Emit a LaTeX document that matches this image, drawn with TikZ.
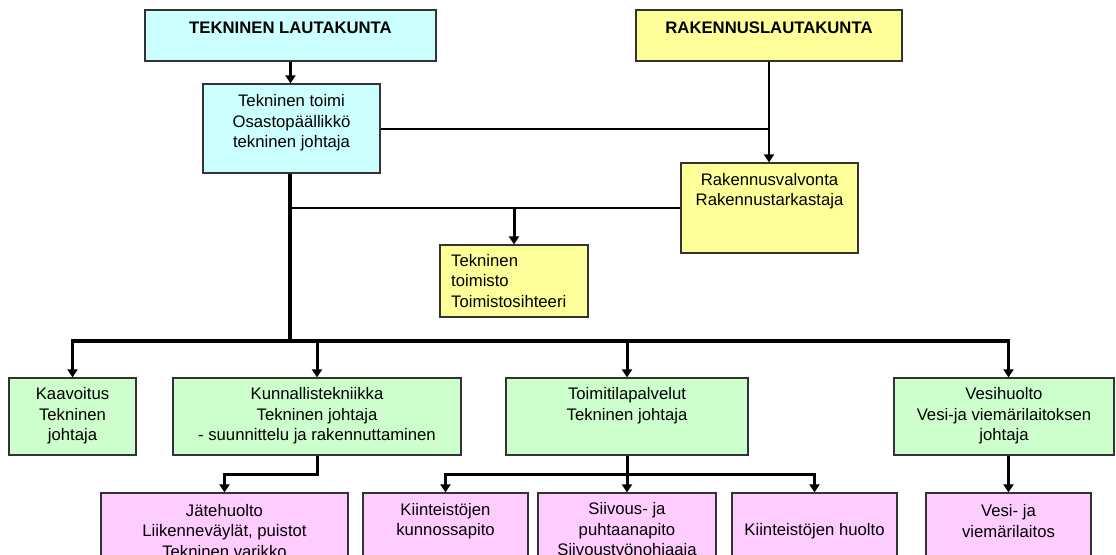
\documentclass[tikz,border=0pt]{standalone}
\usepackage{fontspec}
\setmainfont{Liberation Sans}
\usetikzlibrary{arrows.meta}
\definecolor{cyanbox}{HTML}{CCFFFF}
\definecolor{yellowbox}{HTML}{FFFF99}
\definecolor{greenbox}{HTML}{CCFFCC}
\definecolor{pinkbox}{HTML}{FFCCFF}
\newcommand\fsz{\fontsize{16.7pt}{20.5pt}\selectfont}
\begin{document}
\begin{tikzpicture}[x=1pt,y=-1pt,
  box/.style={draw=black!80, line width=1.2pt, inner sep=0pt, rectangle},
  lbl/.style={inner sep=0pt, align=center, font=\fsz},
  conn/.style={line width=3pt},
  arr/.style={conn, -{Triangle[width=10pt,length=8pt]}}
]
\useasboundingbox (0,0) rectangle (1116,554);
\clip (0,0) rectangle (1116,554);

% boxes
\node[box, fill=cyanbox, minimum width=291pt, minimum height=51pt] (tl) at (290.5,35.5) {};
\node[box, fill=yellowbox, minimum width=266pt, minimum height=51pt] (rl) at (769,35.5) {};
\node[box, fill=cyanbox, minimum width=177pt, minimum height=89pt] (tt) at (291.5,128.5) {};
\node[box, fill=yellowbox, minimum width=177pt, minimum height=90pt] (rv) at (769.5,208) {};
\node[box, fill=yellowbox, minimum width=148pt, minimum height=72pt] (tto) at (514,281) {};
\node[box, fill=greenbox, minimum width=127pt, minimum height=77pt] (kaav) at (72.5,416.5) {};
\node[box, fill=greenbox, minimum width=288pt, minimum height=77pt] (kun) at (317,416.5) {};
\node[box, fill=greenbox, minimum width=242pt, minimum height=77pt] (toi) at (627,416.5) {};
\node[box, fill=greenbox, minimum width=220pt, minimum height=77pt] (vesh) at (1004,416.5) {};
\node[box, fill=pinkbox, minimum width=247pt, minimum height=127pt] (jate) at (224.5,556.5) {};
\node[box, fill=pinkbox, minimum width=165pt, minimum height=127pt] (kk) at (445.5,556.5) {};
\node[box, fill=pinkbox, minimum width=178pt, minimum height=127pt] (siiv) at (627,556.5) {};
\node[box, fill=pinkbox, minimum width=165pt, minimum height=127pt] (kh) at (814.5,556.5) {};
\node[box, fill=pinkbox, minimum width=165pt, minimum height=127pt] (vesi) at (1008.5,556.5) {};

% texts
\node[lbl, font=\fsz\bfseries] (tlt) at (290.5,27.5) {TEKNINEN LAUTAKUNTA};
\node[lbl, font=\fsz\bfseries] (rlt) at (769,27.5) {RAKENNUSLAUTAKUNTA};
\node[lbl] (ttt) at (291.5,123) {Tekninen toimi\\Osastopäällikkö\\tekninen johtaja};
\node[lbl] (rvt) at (769.5,191) {Rakennusvalvonta\\Rakennustarkastaja};
\node[lbl, align=left, anchor=west] (ttot) at (451,281) {Tekninen\\toimisto\\Toimistosihteeri};
\node[lbl] (kaavt) at (72.5,416) {Kaavoitus\\Tekninen\\johtaja};
\node[lbl] (kunt) at (317,416) {Kunnallistekniikka\\Tekninen johtaja\\- suunnittelu ja rakennuttaminen};
\node[lbl] (toit) at (627,405.5) {Toimitilapalvelut\\Tekninen johtaja};
\node[lbl] (vesht) at (1004,416) {Vesihuolto\\Vesi-ja viemärilaitoksen\\johtaja};
\node[lbl] (jatet) at (224.5,531) {Jätehuolto\\Liikenneväylät, puistot\\Tekninen varikko};
\node[lbl] (kkt) at (445.5,521) {Kiinteistöjen\\kunnossapito};
\node[lbl] (siivt) at (627,531) {Siivous- ja\\puhtaanapito\\Siivoustyönohjaaja};
\node[lbl] (kht) at (814.5,531) {Kiinteistöjen huolto};
\node[lbl] (vesit) at (1008.5,521) {Vesi- ja\\viemärilaitos};

% junction coordinates
\coordinate (j1) at (290,208);
\coordinate (j2) at (290,341);
\coordinate (h2) at (0,474);

% connectors
\draw[arr] (tl.south) -- (tl.south |- tt.north);
\draw[line width=2pt] (tt.east) -- (tt.east -| rl.south);
\draw[line width=2.5pt, -{Triangle[width=10pt,length=8pt]}] (rl.south) -- (rl.south |- rv.north);
\draw[line width=3.5pt] (tt.south -| j1) -- (j2);
\draw[line width=2.3pt] (j1) -- (rv.west);
\draw[arr] (tto.north |- j1) -- (tto.north);
\draw[arr, line width=3.3pt] (j2) -| (kaav.north);
\draw[arr, line width=3.3pt] (j2) -| (vesi.north |- vesh.north);
\draw[arr] (kun.north |- j2) -- (kun.north);
\draw[arr] (toi.north |- j2) -- (toi.north);
\draw[arr] (kun.south) -- (kun.south |- h2) -| (jate.north);
\draw[arr] (toi.south) -- (siiv.north);
\draw[arr] (toi.south |- h2) -| (kk.north);
\draw[arr] (toi.south |- h2) -| (kh.north);
\draw[arr] (vesi.north |- vesh.south) -- (vesi.north);
\end{tikzpicture}
\end{document}
